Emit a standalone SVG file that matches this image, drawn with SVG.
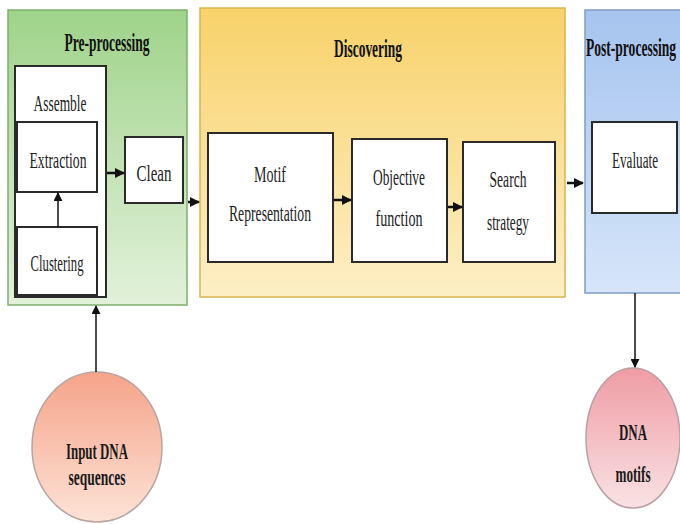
<svg xmlns="http://www.w3.org/2000/svg" width="680" height="524" viewBox="0 0 680 524">
<defs>
<linearGradient id="gGreen" x1="0" y1="0" x2="0" y2="1"><stop offset="0" stop-color="#9fd38a"/><stop offset="1" stop-color="#e2f1da"/></linearGradient>
<linearGradient id="gYellow" x1="0" y1="0" x2="0" y2="1"><stop offset="0" stop-color="#f8d26a"/><stop offset="1" stop-color="#fdefc6"/></linearGradient>
<linearGradient id="gBlue" x1="0" y1="0" x2="0" y2="1"><stop offset="0" stop-color="#a6c4ee"/><stop offset="1" stop-color="#d6e5fa"/></linearGradient>
<linearGradient id="gSalmon" x1="0" y1="0" x2="0" y2="1"><stop offset="0" stop-color="#f5a389"/><stop offset="1" stop-color="#fde3d6"/></linearGradient>
<linearGradient id="gPink" x1="0" y1="0" x2="0" y2="1"><stop offset="0" stop-color="#ef9ca4"/><stop offset="1" stop-color="#f9e2e4"/></linearGradient>
<marker id="ah" viewBox="0 0 10 10" refX="9" refY="5" markerWidth="4" markerHeight="4" orient="auto" markerUnits="strokeWidth"><path d="M0,0 L10,5 L0,10 z" fill="#111"/></marker>
<marker id="ah2" viewBox="0 0 10 10" refX="9" refY="5" markerWidth="6" markerHeight="6" orient="auto" markerUnits="strokeWidth"><path d="M0,0 L10,5 L0,10 z" fill="#111"/></marker>
</defs>
<style>
.box{fill:#fff;stroke:#2a2a2a;stroke-width:2}
.lbl{font-family:"Liberation Serif","Times New Roman",serif;font-size:23px;fill:#222;text-anchor:middle}
.ttl{font-family:"Liberation Serif","Times New Roman",serif;font-size:25px;font-weight:bold;fill:#111;text-anchor:middle}
.cl{font-family:"Liberation Serif","Times New Roman",serif;font-size:24px;font-weight:bold;fill:#1a1a1a;text-anchor:middle}
.ar{stroke:#111;stroke-width:2.5;fill:none;marker-end:url(#ah)}
.ln{stroke:#111;stroke-width:1.5;fill:none;marker-end:url(#ah2)}
</style>

<g id="preprocessing">
<rect x="8" y="10" width="179" height="295" fill="url(#gGreen)" stroke="#7fae6c" stroke-width="1.5"/>
<text class="ttl" x="107" y="51" textLength="85" lengthAdjust="spacingAndGlyphs">Pre-processing</text>
</g>
<g id="discovering">
<rect x="200" y="8" width="365" height="289" fill="url(#gYellow)" stroke="#d9b54e" stroke-width="1.5"/>
<text class="ttl" x="368" y="57" textLength="68" lengthAdjust="spacingAndGlyphs">Discovering</text>
</g>
<g id="postprocessing">
<rect x="585" y="10" width="100" height="283" fill="url(#gBlue)" stroke="#7d9cc6" stroke-width="1.5"/>
<text class="ttl" transform="translate(631,56) scale(0.54,1)" x="0" y="0" textLength="167" lengthAdjust="spacingAndGlyphs">Post-processing</text>
</g>

<g id="assemble">
<rect class="box" x="15" y="66" width="91" height="231"/>
<text class="lbl" x="60" y="111" textLength="53" lengthAdjust="spacingAndGlyphs">Assemble</text>
</g>
<g id="extraction">
<rect class="box" x="17" y="122" width="80" height="70"/>
<text class="lbl" x="58" y="168" textLength="57" lengthAdjust="spacingAndGlyphs">Extraction</text>
</g>
<g id="clustering">
<rect class="box" x="17" y="227" width="80" height="68"/>
<text class="lbl" x="57" y="271" textLength="53" lengthAdjust="spacingAndGlyphs">Clustering</text>
</g>
<g id="clean">
<rect class="box" x="125" y="137" width="58" height="66"/>
<text class="lbl" x="154" y="181" textLength="35" lengthAdjust="spacingAndGlyphs">Clean</text>
</g>
<g id="motif">
<rect class="box" x="208" y="133" width="125" height="129"/>
<text class="lbl" x="270" y="182" textLength="32" lengthAdjust="spacingAndGlyphs">Motif</text>
<text class="lbl" x="270" y="221" textLength="82" lengthAdjust="spacingAndGlyphs">Representation</text>
</g>
<g id="objective">
<rect class="box" x="352" y="139" width="95" height="123"/>
<text class="lbl" x="399" y="185" textLength="52" lengthAdjust="spacingAndGlyphs">Objective</text>
<text class="lbl" x="399" y="226" textLength="47" lengthAdjust="spacingAndGlyphs">function</text>
</g>
<g id="search">
<rect class="box" x="463" y="142" width="92" height="120"/>
<text class="lbl" x="508" y="187" textLength="37" lengthAdjust="spacingAndGlyphs">Search</text>
<text class="lbl" x="508" y="230" textLength="42" lengthAdjust="spacingAndGlyphs">strategy</text>
</g>
<g id="evaluate">
<rect class="box" x="592" y="122" width="85" height="91"/>
<text class="lbl" transform="translate(635,168) scale(0.571,1)" x="0" y="0" textLength="80.5" lengthAdjust="spacingAndGlyphs">Evaluate</text>
</g>
<g id="input">
<ellipse cx="97" cy="447" rx="65" ry="75" fill="url(#gSalmon)" stroke="#b8a4a0" stroke-width="1.5"/>
<text class="cl" x="97" y="459" textLength="62" lengthAdjust="spacingAndGlyphs">Input DNA</text>
<text class="cl" x="97" y="485" textLength="57" lengthAdjust="spacingAndGlyphs">sequences</text>
</g>
<g id="motifs">
<ellipse cx="633" cy="438" rx="47" ry="70" fill="url(#gPink)" stroke="#b8a0a4" stroke-width="1.5"/>
<text class="cl" x="633" y="440" textLength="28" lengthAdjust="spacingAndGlyphs">DNA</text>
<text class="cl" x="633" y="482" textLength="35" lengthAdjust="spacingAndGlyphs">motifs</text>
</g>

<g id="connectors">
<line class="ln" x1="58" y1="227" x2="58" y2="193"/>
<line class="ar" x1="107" y1="173" x2="124" y2="173"/>
<line class="ar" x1="188" y1="202" x2="199" y2="202"/>
<line class="ar" x1="334" y1="200" x2="351" y2="200"/>
<line class="ar" x1="448" y1="207" x2="462" y2="207"/>
<line class="ar" x1="567" y1="183" x2="583" y2="183"/>
<line class="ln" x1="96" y1="372" x2="96" y2="306"/>
<line class="ln" x1="635" y1="293" x2="635" y2="367"/>
</g>
</svg>
